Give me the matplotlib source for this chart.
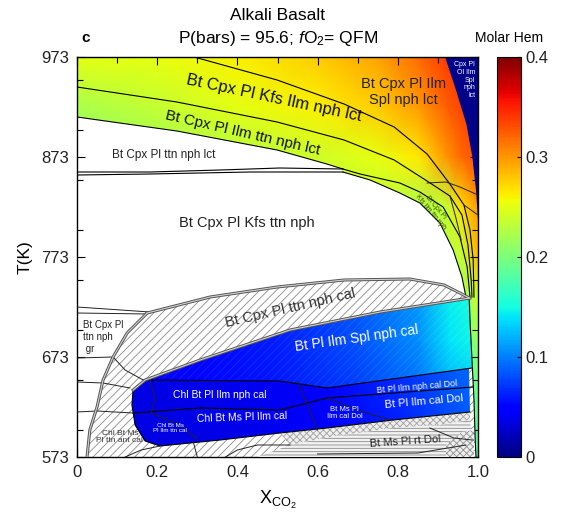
import numpy as np
import matplotlib
matplotlib.use("Agg")
import matplotlib.pyplot as plt
from matplotlib.patches import Polygon
from matplotlib.ticker import MultipleLocator

plt.rcParams['font.family'] = ['Liberation Sans', 'DejaVu Sans']
plt.rcParams['mathtext.fontset'] = 'custom'
plt.rcParams['mathtext.rm'] = 'Liberation Sans'
plt.rcParams['mathtext.it'] = 'Liberation Sans:italic'
plt.rcParams['hatch.linewidth'] = 0.6

# ---- boundary curves (X_CO2, T in K) ----
curve_A_x = [0.292, 0.499, 0.666, 0.791, 0.873, 0.930, 0.965, 0.980, 0.988, 0.990]
curve_A_t = [973, 950, 926, 903, 876, 846, 825, 800, 770, 733]
curve_B_x = [0, 0.249, 0.499, 0.666, 0.791, 0.873, 0.930, 0.960, 0.975, 0.983, 0.985]
curve_B_t = [943, 928, 908, 890, 870, 849, 834, 815, 785, 750, 733]
curve_C_x = [0, 0.249, 0.499, 0.623, 0.663]
curve_C_t = [913, 899, 880, 866, 861]
curve_C2_x = [0.663, 0.706, 0.805, 0.855, 0.913, 0.955, 0.973, 0.980]
curve_C2_t = [861, 856, 847, 838, 823, 793, 763, 733]
curve_D_x = [0.663, 0.731, 0.805, 0.855, 0.905, 0.938, 0.960, 0.970]
curve_D_t = [858, 850, 837, 827, 807, 780, 753, 733]
dbl1_x = [0, 0.182, 0.431, 0.663]
dbl1_t = [855, 856, 858, 858]
dbl2_x = [0, 0.182, 0.357, 0.506, 0.663]
dbl2_t = [858, 858, 860, 862, 861]
navy_x = [0.918, 0.945, 0.971, 0.986, 0.995, 1.0, 1.0]
navy_t = [973, 940, 906, 873, 840, 810, 973]

lens_top_x = [0.175, 0.332, 0.499, 0.666, 0.830, 0.915, 0.955, 0.978]
lens_top_t = [717, 733, 743, 750, 751, 745, 737, 732]
blue_top_x = [0.140, 0.170, 0.307, 0.531, 0.756, 0.980]
blue_top_t = [640, 650, 670, 700, 718, 732]
hleft_x = [0.175, 0.125, 0.090, 0.065, 0.050, 0.032, 0.025]
hleft_t = [717, 697, 673, 650, 623, 600, 573]
strip_x = [0.995, 0.993, 0.990, 0.985, 0.980, 0.978]
strip_t = [573, 590, 630, 670, 710, 732]

blue_right_x = [0.982, 0.978, 0.980]
blue_right_t = [700, 660, 618]
blue_bot_x = [0.980, 0.788, 0.623, 0.506, 0.357, 0.207, 0.170, 0.145, 0.137, 0.140]
blue_bot_t = [618, 610, 602, 597, 590, 584, 589, 605, 625, 640]
spl_low_x = [0.165, 0.506, 0.623, 0.985]
spl_low_t = [650, 649, 642, 662]
dol_x = [0.623, 0.988]
dol_t = [632, 643]
chl_x = [0.140, 0.307, 0.506, 0.623]
chl_t = [617, 622, 620, 632]

ch1_x = [0.506, 0.623, 0.788, 0.980, 0.980, 0.905, 0.788, 0.631, 0.531]
ch1_t = [597, 602, 610, 618, 610, 605, 602, 593, 585]
hz_x = [0.531, 0.631, 0.788, 0.905, 0.980, 0.990, 0.45]
hz_t = [585, 593, 602, 605, 610, 573, 573]
ch2_x = [0.92, 0.92, 0.96, 0.99, 0.99]
ch2_t = [573, 585, 598, 600, 573]

# extra short boundaries
extra_lines = [
    ([0.873, 0.92, 0.955, 1.0], [847, 848, 843, 835]),
    ([0.93, 0.945, 0.958], [834, 812, 790]),
    ([0.965, 1.0], [825, 815]),
    ([0, 0.182], [723, 718]),
    ([0, 0.175], [717, 716]),
    ([0, 0.09], [672, 673]),
    ([0, 0.065, 0.132], [648, 647, 642]),
    ([0, 0.05, 0.14], [618, 619, 617]),
    ([0.09, 0.12, 0.165], [673, 660, 650]),
    ([0.182, 0.195, 0.185], [650, 632, 617]),
    ([0.185, 0.25, 0.30], [617, 606, 591]),
    ([0.55, 0.57, 0.60], [648, 630, 600]),
    ([0.623, 0.70, 0.78], [632, 620, 610]),
    ([0.30, 0.29], [573, 588]),
    ([0.37, 0.40, 0.45, 0.531], [573, 580, 585, 585]),
    ([0.60, 0.85, 0.97], [576, 577, 585]),
    ([0.88, 0.94, 0.985], [602, 592, 590]),
    ([0.12, 0.16, 0.207], [573, 580, 584]),
]

# ---- Molar Hem (grid values) ----
up_x = [0, 0.2, 0.4, 0.6, 0.75, 0.85, 0.92, 0.96, 1.0]
up_t = [573, 673, 733, 773, 823, 873, 923, 973]
up_hem = [
    [0.16, 0.16, 0.16, 0.16, 0.16, 0.16, 0.165, 0.17, 0.18],
    [0.18, 0.18, 0.18, 0.18, 0.18, 0.18, 0.185, 0.19, 0.20],
    [0.19, 0.19, 0.19, 0.20, 0.20, 0.20, 0.21, 0.215, 0.24],
    [0.20, 0.20, 0.205, 0.21, 0.215, 0.215, 0.225, 0.235, 0.285],
    [0.20, 0.205, 0.215, 0.225, 0.232, 0.222, 0.235, 0.27, 0.30],
    [0.205, 0.215, 0.228, 0.24, 0.252, 0.265, 0.30, 0.32, 0.33],
    [0.222, 0.235, 0.25, 0.262, 0.278, 0.298, 0.322, 0.335, 0.34],
    [0.25, 0.252, 0.262, 0.278, 0.295, 0.318, 0.338, 0.345, 0.35],
]
spl_x = [0.13, 0.3, 0.5, 0.7, 0.85, 0.93, 1.0]
spl_t = [640, 690, 735]
spl_hem = [
    [0.045, 0.05, 0.058, 0.075, 0.095, 0.12, 0.13],
    [0.045, 0.052, 0.062, 0.082, 0.105, 0.14, 0.15],
    [0.05, 0.055, 0.065, 0.085, 0.11, 0.145, 0.155],
]
low_x = [0.13, 0.4, 0.62, 0.8, 1.0]
low_t = [580, 665]
low_hem = [
    [0.033, 0.036, 0.045, 0.06, 0.085],
    [0.036, 0.04, 0.05, 0.068, 0.095],
]
navy_hem = 0.004

# ---- labels ----
labels = [
    ("Bt Cpx Pl Ilm\nSpl nph lct", 0.815, 938, 0, 10.5, '#222222'),
    ("Bt Cpx Pl Kfs Ilm nph lct", 0.49, 932, -12, 12, '#111111'),
    ("Bt Cpx Pl Ilm ttn nph lct", 0.414, 897, -13, 11, '#111111'),
    ("Bt Cpx Pl ttn nph lct", 0.217, 875, 0, 8.5, '#222222'),
    ("Bt Cpx Pl Kfs ttn nph", 0.424, 807, 0, 10.5, '#222222'),
    ("Bt Cpx Pl ttn nph cal", 0.531, 722, 13, 10.5, '#333333'),
    ("Bt Pl Ilm Spl nph cal", 0.698, 692, 8, 10, 'white'),
    ("Chl Bt Pl Ilm nph cal", 0.357, 635, 0, 7.5, 'white'),
    ("Chl Bt Ms Pl Ilm cal", 0.411, 613, 2, 7.5, 'white'),
    ("Chl Bt Ms\nPl Ilm ttn cal", 0.232, 602, 0, 4.5, 'white'),
    ("Bt Ms Pl\nIlm cal Dol", 0.668, 617, 0, 5.5, 'white'),
    ("Bt Pl Ilm nph cal Dol", 0.848, 643, 5, 6.5, 'white'),
    ("Bt Pl Ilm cal Dol", 0.865, 628, 5, 8, 'white'),
    ("Bt Ms Pl rt Dol", 0.818, 588, 4, 8, '#222222'),
    ("Chl Bt Ms\nPl ttn ant cal", 0.107, 593, 0, 6, '#333333'),
    ("Bt Cpx Pl\nKfs Ilm ttn nph", 0.888, 820, -50, 4.8, '#3a4a00'),
]

fig = plt.figure(figsize=(5.61, 5.23), dpi=100)
ax = fig.add_axes([77 / 561, 66 / 523, 401 / 561, 400 / 523])
cax = fig.add_axes([497 / 561, 66 / 523, 24 / 561, 400 / 523])
cmap = plt.get_cmap('jet')
norm = plt.Normalize(0, 0.4)


def field(xs, ts, vals, outline, z):
    m = ax.pcolormesh(xs, ts, np.array(vals), shading='gouraud', cmap=cmap,
                      norm=norm, zorder=z)
    m.set_clip_path(Polygon(outline, closed=True, transform=ax.transData))
    return m


# upper coloured region
upper = ([(0, 973), (1, 973), (1, 573)] + list(zip(strip_x, strip_t))
         + list(zip(curve_D_x, curve_D_t))[::-1] + list(zip(curve_C_x, curve_C_t))[::-1])
mesh = field(up_x, up_t, up_hem, upper, 1)

ax.add_patch(Polygon(list(zip(navy_x, navy_t)), closed=True, facecolor=cmap(norm(navy_hem)),
                     edgecolor='none', zorder=2.5))

# hatched region
hatched = (list(zip(lens_top_x, lens_top_t)) + list(zip(strip_x, strip_t))[::-1]
           + [(0.995, 573)] + list(zip(hleft_x, hleft_t))[::-1])
ax.add_patch(Polygon(hatched, closed=True, facecolor='white', edgecolor='#8a8a8a',
                     hatch='////', linewidth=0, zorder=2))

# blue regions
blue_all = (list(zip(blue_top_x, blue_top_t)) + list(zip(blue_right_x, blue_right_t))
            + list(zip(blue_bot_x, blue_bot_t)))
field(low_x, low_t, low_hem, blue_all, 3)
spl_poly = (list(zip(blue_top_x[1:], blue_top_t[1:])) + [(0.982, 700), (0.985, 662)]
            + list(zip(spl_low_x, spl_low_t))[::-1])
field(spl_x, spl_t, spl_hem, spl_poly, 3.1)
ax.add_patch(Polygon(spl_poly, closed=True, facecolor='none', edgecolor=(1, 1, 1, 0.1),
                     hatch='////', linewidth=0, zorder=3.2))

# bottom patterned regions
ax.add_patch(Polygon(list(zip(ch1_x, ch1_t)), closed=True, facecolor='#eeeeee',
                     edgecolor='#a0a0a0', hatch='xxxxx', linewidth=0, zorder=3))
ax.add_patch(Polygon(list(zip(hz_x, hz_t)), closed=True, facecolor='#f2f2f2',
                     edgecolor='#8a8a8a', hatch='-----', linewidth=0, zorder=3))
ax.add_patch(Polygon(list(zip(ch2_x, ch2_t)), closed=True, facecolor='#eeeeee',
                     edgecolor='#909090', hatch='xxxxx', linewidth=0, zorder=3.3))

# boundaries
for xs, ts in [(curve_A_x, curve_A_t), (curve_B_x, curve_B_t), (curve_C_x, curve_C_t),
               (curve_C2_x, curve_C2_t), (curve_D_x, curve_D_t), (dbl1_x, dbl1_t),
               (dbl2_x, dbl2_t), (spl_low_x, spl_low_t), (dol_x, dol_t), (chl_x, chl_t),
               (blue_bot_x, blue_bot_t), (strip_x, strip_t)]:
    ax.plot(xs, ts, color='black', lw=0.8, zorder=4)
for xs, ts in extra_lines:
    ax.plot(xs, ts, color='#222222', lw=0.7, zorder=4)
for xs, ts in [(lens_top_x, lens_top_t), (blue_top_x, blue_top_t), (hleft_x, hleft_t)]:
    ax.plot(xs, ts, color='#555555', lw=2.2, zorder=4)
    ax.plot(xs, ts, color='#d0d0d0', lw=0.8, zorder=4.1)

for txt, x, t, rot, fs, col in labels:
    ax.text(x, t, txt, rotation=rot, fontsize=fs, color=col, ha='center', va='center',
            linespacing=1.1, rotation_mode='anchor', zorder=5)
ax.text(0.015, 693, "Bt Cpx Pl\nttn nph\n gr", fontsize=7, color='#222222', ha='left',
        va='center', linespacing=1.25, zorder=5)
ax.text(0.993, 950, "Cpx Pl\nOl Ilm\nSpl\nnph\nlct", fontsize=5, color='white', ha='right',
        va='center', linespacing=1.15, zorder=5)

ax.set_xlim(0, 1)
ax.set_ylim(573, 973)
ax.set_xticks([0, 0.2, 0.4, 0.6, 0.8, 1.0])
ax.set_xticklabels(['0', '0.2', '0.4', '0.6', '0.8', '1.0'])
ax.set_yticks([573, 673, 773, 873, 973])
ax.xaxis.set_minor_locator(MultipleLocator(0.1))
ax.yaxis.set_minor_locator(MultipleLocator(50))
ax.tick_params(which='both', direction='in', top=True, right=True, labelsize=12,
               labelcolor='#222222', width=0.8, pad=6)
ax.tick_params(which='major', length=6)
ax.tick_params(which='minor', length=4)
for s in ax.spines.values():
    s.set_linewidth(1.0)
ax.set_xlabel(r"X$_{\mathrm{CO_2}}$", fontsize=13, labelpad=6)
ax.set_ylabel("T(K)", fontsize=12.5, labelpad=6)

cbar = fig.colorbar(mesh, cax=cax)
cbar.set_ticks([0, 0.1, 0.2, 0.3, 0.4])
cbar.set_ticklabels(['0', '0.1', '0.2', '0.3', '0.4'])
cax.tick_params(direction='in', length=3, labelsize=12, labelcolor='#222222')
cbar.outline.set_linewidth(0.8)

fig.text(278 / 561, 1 - 15 / 523, "Alkali Basalt", ha='center', va='center', fontsize=12.5)
fig.text(278 / 561, 1 - 38 / 523, r"P(bars) = 95.6; $\it{f}$O$_2$= QFM", ha='center',
         va='center', fontsize=12.5)
fig.text(86 / 561, 1 - 38 / 523, "c", ha='center', va='center', fontsize=11, fontweight='bold')
fig.text(509 / 561, 1 - 38 / 523, "Molar Hem", ha='center', va='center', fontsize=10)

fig.savefig("out.png", dpi=100)
